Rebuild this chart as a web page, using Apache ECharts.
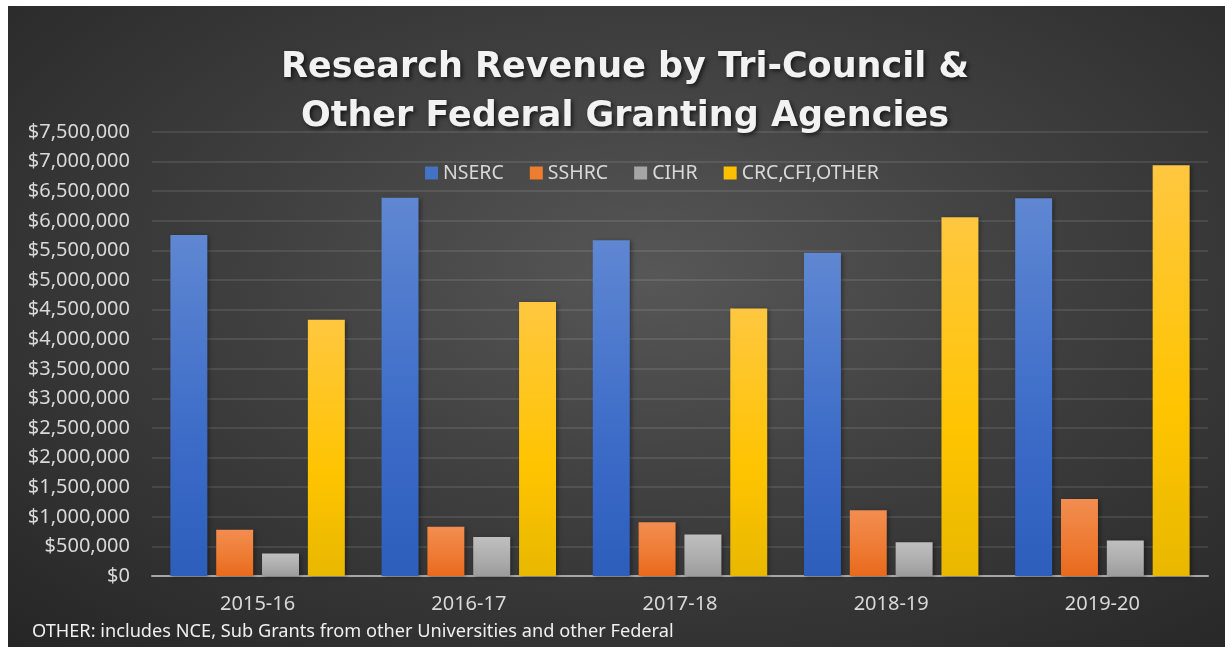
<!DOCTYPE html>
<html>
<head>
<meta charset="utf-8">
<script src="https://cdn.jsdelivr.net/npm/echarts@6/dist/echarts.min.js"></script>
<style>
  html, body { margin: 0; padding: 0; background: #ffffff; width: 1225px; height: 647px; overflow: hidden; }
  #chart { position: absolute; left: 8px; top: 6px; width: 1217px; height: 641px;
    background: radial-gradient(ellipse 75% 80% at 53% 42%, #575757 0%, #3f3f3f 45%, #262626 100%); }
</style>
</head>
<body>
<div id="chart"></div>
<script>
const categories = ['2015-16', '2016-17', '2017-18', '2018-19', '2019-20'];
const seriesNames = ['NSERC', 'SSHRC', 'CIHR', 'CRC,CFI,OTHER'];
const nserc = [5760000, 6390000, 5670000, 5460000, 6380000];
const sshrc = [780000, 830000, 910000, 1110000, 1300000];
const cihr = [380000, 660000, 700000, 570000, 600000];
const crcOther = [4330000, 4630000, 4520000, 6060000, 6940000];
const yMin = 0, yMax = 7500000, yStep = 500000;
const titleText = 'Research Revenue by Tri-Council &\nOther Federal Granting Agencies';
const footnote = 'OTHER: includes NCE, Sub Grants from other Universities and other Federal';

function grad(top, mid, bottom) {
  return new echarts.graphic.LinearGradient(0, 0, 0, 1, [
    { offset: 0, color: top }, { offset: 0.6, color: mid }, { offset: 1, color: bottom }
  ]);
}
const colors = [
  grad('#5f87d2', '#3c6cc8', '#2e5ebc'),
  grad('#f28d50', '#ee7a32', '#e8691c'),
  grad('#bfbfbf', '#acacac', '#9b9b9b'),
  grad('#ffc740', '#ffc400', '#e8b800')
];
const legendColors = ['#4472c4', '#ed7d31', '#a5a5a5', '#ffc000'];
const values = [nserc, sshrc, cihr, crcOther];

const chart = echarts.init(document.getElementById('chart'), null, { renderer: 'canvas' });
const fmt = v => '$' + v.toLocaleString('en-US');
chart.setOption({
  backgroundColor: 'transparent',
  animation: false,
  title: {
    text: titleText,
    left: 612,
    textAlign: 'center',
    top: 32,
    textStyle: {
      fontFamily: 'DejaVu Sans', fontWeight: 'bold', fontSize: 35, lineHeight: 49,
      color: '#f2f2f2', textShadowColor: 'rgba(0,0,0,0.65)', textShadowBlur: 4,
      textShadowOffsetX: 2, textShadowOffsetY: 2
    }
  },
  legend: {
    data: seriesNames.map((n, i) => ({ name: n, itemStyle: { color: legendColors[i] } })),
    left: 412, top: 152,
    icon: 'rect', itemWidth: 13, itemHeight: 13, itemGap: 26,
    textStyle: { fontFamily: 'Noto Sans', fontSize: 19.5, color: '#d9d9d9' }
  },
  grid: { left: 144, right: 17, top: 126, bottom: 71, containLabel: false },
  xAxis: {
    type: 'category', data: categories,
    axisLine: { lineStyle: { color: '#a6a6a6', width: 2 } },
    axisTick: { show: false },
    axisLabel: { fontFamily: 'Noto Sans', fontSize: 20, color: '#d9d9d9', margin: 18 }
  },
  yAxis: {
    type: 'value', min: yMin, max: yMax, interval: yStep,
    axisLine: { show: false }, axisTick: { show: false },
    splitLine: { lineStyle: { color: 'rgba(255,255,255,0.13)', width: 1.5 } },
    axisLabel: { fontFamily: 'Noto Sans', fontSize: 20, color: '#d9d9d9', margin: 22, formatter: fmt }
  },
  series: seriesNames.map((n, i) => ({
    name: n, type: 'bar', data: values[i],
    barGap: '24%', barCategoryGap: '17.4%',
    itemStyle: { color: colors[i], shadowColor: 'rgba(0,0,0,0.35)', shadowBlur: 4, shadowOffsetX: 2, shadowOffsetY: 1 }
  })),
  graphic: [{
    type: 'text', left: 24, top: 617,
    style: { text: footnote, fontFamily: 'Noto Sans', fontSize: 18.2, fill: '#f0f0f0' }
  }]
});
</script>
</body>
</html>
